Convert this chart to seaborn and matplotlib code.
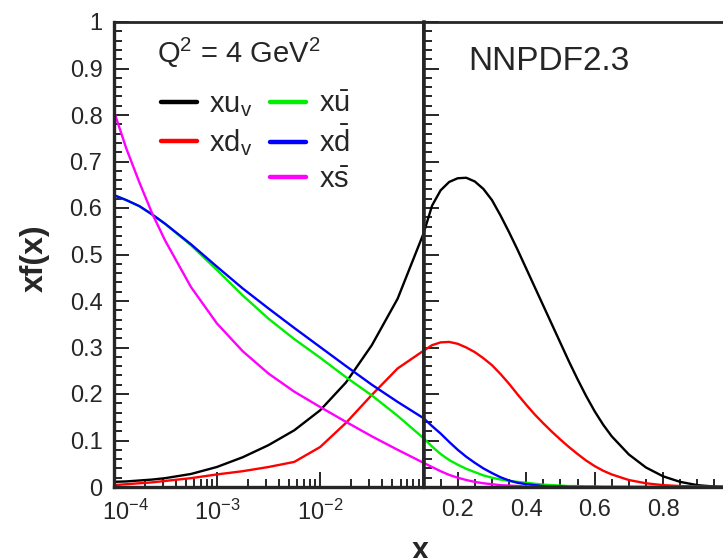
import numpy as np
import pandas as pd
import matplotlib
matplotlib.use("Agg")
import matplotlib.pyplot as plt
import seaborn as sns
from matplotlib.lines import Line2D
from matplotlib.transforms import ScaledTranslation
from matplotlib.ticker import (FixedLocator, MultipleLocator, LogLocator, FuncFormatter,
                               LogFormatterSciNotation, NullFormatter)

# ---------------- data ----------------
# small-x part (log scale, left panel)
x_small = [1e-4, 1.33e-4, 1.78e-4, 2.37e-4, 3.16e-4, 5.62e-4, 1e-3, 1.78e-3, 3.16e-3, 5.62e-3,
           1e-2, 1.78e-2, 3.16e-2, 5.62e-2, 0.1]
# large-x part (linear scale, right panel)
x_large = [0.125, 0.15, 0.175, 0.2, 0.225, 0.25, 0.275, 0.3, 0.325, 0.35, 0.375, 0.4,
           0.425, 0.45, 0.475, 0.5, 0.525, 0.55, 0.575, 0.6, 0.625, 0.65,
           0.7, 0.75, 0.8, 0.85, 0.9, 0.95, 1.0]

uv_small = [0.011, 0.012, 0.014, 0.016, 0.019, 0.028, 0.043, 0.064, 0.090, 0.122,
            0.165, 0.225, 0.305, 0.405, 0.545]
uv_large = [0.605, 0.638, 0.656, 0.664, 0.665, 0.657, 0.641, 0.617, 0.584, 0.548, 0.510, 0.470,
            0.430, 0.390, 0.350, 0.310, 0.270, 0.232, 0.196, 0.163, 0.134, 0.109,
            0.070, 0.042, 0.023, 0.011, 0.004, 0.001, 0.0]

dv_small = [0.004, 0.006, 0.008, 0.010, 0.013, 0.019, 0.027, 0.034, 0.043, 0.054,
            0.086, 0.138, 0.198, 0.255, 0.293]
dv_large = [0.305, 0.311, 0.312, 0.308, 0.300, 0.290, 0.277, 0.262, 0.243, 0.222, 0.199, 0.177,
            0.156, 0.137, 0.119, 0.102, 0.086, 0.071, 0.057, 0.045, 0.035, 0.027,
            0.015, 0.008, 0.004, 0.002, 0.001, 0.0, 0.0]

ubar_small = [0.628, 0.617, 0.604, 0.586, 0.566, 0.520, 0.467, 0.412, 0.362, 0.318,
              0.278, 0.236, 0.197, 0.153, 0.105]
ubar_large = [0.087, 0.071, 0.058, 0.048, 0.039, 0.032, 0.025, 0.020, 0.016, 0.013, 0.011, 0.009,
              0.007, 0.005, 0.004, 0.003, 0.002, 0.002, 0.001, 0.001, 0.0, 0.0,
              0.0, 0.0, 0.0, 0.0, 0.0, 0.0, 0.0]

dbar_small = [0.628, 0.617, 0.604, 0.586, 0.566, 0.522, 0.474, 0.427, 0.384, 0.342,
              0.301, 0.260, 0.220, 0.183, 0.148]
dbar_large = [0.131, 0.115, 0.097, 0.080, 0.065, 0.052, 0.040, 0.030, 0.021, 0.014, 0.009, 0.006,
              0.004, 0.002, 0.001, 0.001, 0.0, 0.0, 0.0, 0.0, 0.0, 0.0,
              0.0, 0.0, 0.0, 0.0, 0.0, 0.0, 0.0]

sbar_small = [0.811, 0.728, 0.655, 0.588, 0.530, 0.430, 0.352, 0.292, 0.244, 0.205,
              0.172, 0.140, 0.109, 0.080, 0.052]
sbar_large = [0.043, 0.034, 0.026, 0.020, 0.015, 0.011, 0.008, 0.006, 0.004, 0.003, 0.002, 0.001,
              0.0, 0.0, 0.0, 0.0, 0.0, 0.0, 0.0, 0.0, 0.0, 0.0,
              0.0, 0.0, 0.0, 0.0, 0.0, 0.0, 0.0]

names = ["uv", "dv", "ubar", "dbar", "sbar"]
labels = [r"$\mathrm{xu_v}$", r"$\mathrm{xd_v}$", r"$\mathrm{x\bar{u}}$",
          r"$\mathrm{x\bar{d}}$", r"$\mathrm{x\bar{s}}$"]
colors = ["#000000", "#ff0000", "#00ee00", "#0000ff", "#ff00ff"]

y_ticks = [0, 0.1, 0.2, 0.3, 0.4, 0.5, 0.6, 0.7, 0.8, 0.9, 1.0]
xlog_ticks = [1e-4, 1e-3, 1e-2]
xlin_ticks = [0.2, 0.4, 0.6, 0.8]

# ---------------- styling ----------------
sns.set_style("ticks")
plt.rcParams["font.family"] = ["Liberation Sans", "DejaVu Sans"]
plt.rcParams["mathtext.fontset"] = "custom"
plt.rcParams["mathtext.rm"] = "Liberation Sans"
plt.rcParams["mathtext.it"] = "Liberation Sans:italic"
plt.rcParams["mathtext.bf"] = "Liberation Sans:bold"
plt.rcParams["mathtext.default"] = "regular"

series = {"uv": (uv_small, uv_large), "dv": (dv_small, dv_large),
          "ubar": (ubar_small, ubar_large), "dbar": (dbar_small, dbar_large),
          "sbar": (sbar_small, sbar_large)}
frames = []
for n in names:
    ys, yl = series[n]
    frames.append(pd.DataFrame({"x": list(x_small) + list(x_large),
                                "xf": list(ys) + list(yl), "pdf": n}))
df = pd.concat(frames, ignore_index=True)
palette = dict(zip(names, colors))

W, H = 723, 558
def rect(x0, x1, yt, yb):
    return [x0 / W, 1 - yb / H, (x1 - x0) / W, (yb - yt) / H]

fig = plt.figure(figsize=(W / 100, H / 100), dpi=100)
axL = fig.add_axes(rect(113.5, 423.5, 22, 487))
axR = fig.add_axes(rect(423.5, 731.5, 22, 487))

for ax in (axL, axR):
    sns.lineplot(data=df, x="x", y="xf", hue="pdf", hue_order=names, palette=palette,
                 estimator=None, sort=False, legend=False, ax=ax, linewidth=1.7)
    ax.set_ylim(0, 1)
    ax.set_xlabel("")
    ax.set_ylabel("")
    ax.yaxis.set_major_locator(FixedLocator(y_ticks))
    ax.yaxis.set_minor_locator(MultipleLocator(0.02))
    ax.tick_params(axis="both", which="major", direction="in", length=11, width=1.4,
                   labelsize=17, top=False, right=False)
    ax.tick_params(axis="both", which="minor", direction="in", length=6, width=1.4,
                   top=False, right=False)
    for s in ax.spines.values():
        s.set_linewidth(2.0)

axL.set_xscale("log")
axL.set_xlim(1e-4, 0.1)
axL.xaxis.set_major_locator(FixedLocator(xlog_ticks))
axL.xaxis.set_major_formatter(LogFormatterSciNotation())
axL.xaxis.set_minor_locator(LogLocator(base=10, subs=np.arange(2, 10)))
axL.xaxis.set_minor_formatter(NullFormatter())
axL.yaxis.set_major_formatter(FuncFormatter(lambda v, p: "%g" % v))
axL.tick_params(axis="y", which="major", pad=8)
axL.tick_params(axis="x", which="major", pad=9)
axL.spines["left"].set_linewidth(2.4)
axL.spines["bottom"].set_linewidth(2.4)
# shift the first (edge) log label slightly to the right, as in the reference
first = axL.xaxis.get_major_ticks()[0]
first.label1.set_transform(first.label1.get_transform() +
                           ScaledTranslation(12 / 100, 0, fig.dpi_scale_trans))

axR.set_xlim(0.1, 1.0)
axR.xaxis.set_major_locator(FixedLocator(xlin_ticks))
axR.xaxis.set_minor_locator(MultipleLocator(0.05))
axR.xaxis.set_major_formatter(FuncFormatter(lambda v, p: "%g" % v))
axR.tick_params(axis="y", labelleft=False)
axR.tick_params(axis="x", which="major", pad=9)
axR.spines["right"].set_visible(False)
axR.spines["left"].set_linewidth(2.6)
axR.spines["bottom"].set_linewidth(2.4)

# legend
handles = [Line2D([], [], color=colors[0], lw=3.2, label=labels[0]),
           Line2D([], [], color=colors[1], lw=3.2, label=labels[1]),
           Line2D([], [], color="none", lw=0, label=" "),
           Line2D([], [], color=colors[2], lw=3.2, label=labels[2]),
           Line2D([], [], color=colors[3], lw=3.2, label=labels[3]),
           Line2D([], [], color=colors[4], lw=3.2, label=labels[4])]
axL.legend(handles=handles, ncol=2, loc="upper left", bbox_to_anchor=(0.152, 0.853),
           frameon=False, fontsize=21, handlelength=1.25, handletextpad=0.42,
           columnspacing=0.6, labelspacing=0.27, borderaxespad=0, borderpad=0)

fig.text(157 / W, 1 - 63 / H, r"Q$^2$ = 4 GeV$^2$", fontsize=21, ha="left", va="baseline")
fig.text(468 / W, 1 - 70 / H, "NNPDF2.3", fontsize=24, ha="left", va="baseline")

fig.text(35 / W, 1 - 258 / H, "xf(x)", fontsize=23, fontweight="bold",
         rotation=90, ha="center", va="center")
fig.text(420 / W, 1 - 559 / H, "x", fontsize=22, fontweight="bold",
         ha="center", va="baseline")

fig.savefig("out.png", dpi=100)
